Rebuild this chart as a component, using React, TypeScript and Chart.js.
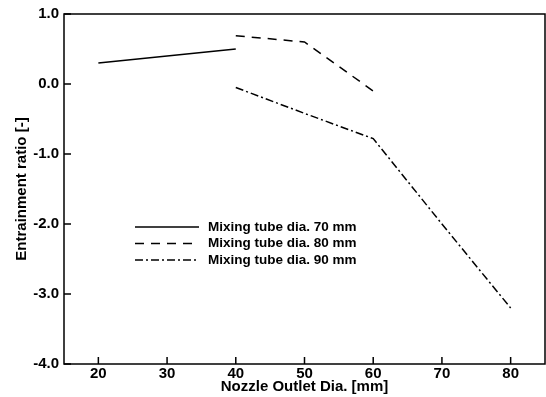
import React, { useEffect, useRef } from "react";
import { Chart, registerables } from "chart.js";

Chart.register(...registerables);

const seriesLabels = ["Mixing tube dia. 70 mm", "Mixing tube dia. 80 mm", "Mixing tube dia. 90 mm"];
const nozzle70 = [20, 40];
const ratio70 = [0.3, 0.5];
const nozzle80 = [40, 50, 60];
const ratio80 = [0.69, 0.6, -0.1];
const nozzle90 = [40, 50, 60, 70, 80];
const ratio90 = [-0.05, -0.42, -0.78, -2.0, -3.2];
const xTickValues = [20, 30, 40, 50, 60, 70, 80];
const yTickValues = [-4, -3, -2, -1, 0, 1];

const dashes = [[], [9, 7], [8, 3, 2, 3]];

const toPts = (xs: number[], ys: number[]) => xs.map((x, i) => ({ x, y: ys[i] }));

const framePlugin = {
  id: "frameAndLegend",
  afterDatasetsDraw(chart: any) {
    const { ctx, chartArea } = chart;
    const xs = chart.scales.x;
    const ys = chart.scales.y;
    ctx.save();
    ctx.strokeStyle = "#000";
    ctx.lineWidth = 1.5;
    ctx.setLineDash([]);
    ctx.strokeRect(chartArea.left, chartArea.top, chartArea.right - chartArea.left, chartArea.bottom - chartArea.top);
    ctx.beginPath();
    xTickValues.forEach((v) => {
      const px = xs.getPixelForValue(v);
      ctx.moveTo(px, chartArea.bottom);
      ctx.lineTo(px, chartArea.bottom - 7);
    });
    yTickValues.forEach((v) => {
      const py = ys.getPixelForValue(v);
      ctx.moveTo(chartArea.left, py);
      ctx.lineTo(chartArea.left + 7, py);
    });
    ctx.stroke();

    // legend inside plot
    const lx = chartArea.left + 71;
    const ly = chartArea.top + 213;
    ctx.font = "bold 13.5px 'Liberation Sans', Arial, sans-serif";
    ctx.textBaseline = "middle";
    ctx.fillStyle = "#000";
    chart.data.datasets.forEach((ds: any, i: number) => {
      const y = ly + i * 16.5;
      ctx.beginPath();
      ctx.setLineDash(ds.borderDash || []);
      ctx.lineWidth = 1.4;
      ctx.moveTo(lx, y);
      ctx.lineTo(lx + 64, y);
      ctx.stroke();
      ctx.fillText(ds.label, lx + 73, y);
    });
    ctx.restore();
  },
};

export default function App() {
  const ref = useRef<HTMLCanvasElement>(null);
  useEffect(() => {
    if (!ref.current) return;
    const mk = (i: number, xs: number[], ys: number[]) => ({
      label: seriesLabels[i],
      data: toPts(xs, ys),
      borderColor: "#000",
      borderWidth: 1.5,
      borderDash: dashes[i],
      pointRadius: 0,
      fill: false,
      tension: 0,
    });
    const font = { family: "'Liberation Sans', Arial, sans-serif", weight: "bold" as const, size: 15 };
    const chart = new Chart(ref.current, {
      type: "line",
      data: {
        datasets: [mk(0, nozzle70, ratio70), mk(1, nozzle80, ratio80), mk(2, nozzle90, ratio90)],
      },
      options: {
        animation: false,
        responsive: false,
        maintainAspectRatio: false,
        layout: { padding: { top: 14, right: 1, left: 0, bottom: 0 } },
        plugins: { legend: { display: false }, tooltip: { enabled: false } },
        scales: {
          x: {
            type: "linear",
            min: 15,
            max: 85,
            grid: { display: false, drawTicks: false },
            border: { display: false },
            afterBuildTicks: (s: any) => {
              s.ticks = xTickValues.map((v) => ({ value: v }));
            },
            afterFit: (s: any) => {
              s.height = 33;
            },
            ticks: { color: "#000", font, padding: 1, maxRotation: 0, callback: (v: any) => String(v) },
            title: {
              display: true,
              text: "Nozzle Outlet Dia. [mm]",
              color: "#000",
              font: { ...font, size: 15 },
              padding: { top: 1, bottom: 1 },
            },
          },
          y: {
            type: "linear",
            min: -4,
            max: 1,
            grid: { display: false, drawTicks: false },
            border: { display: false },
            afterBuildTicks: (s: any) => {
              s.ticks = yTickValues.map((v) => ({ value: v }));
            },
            afterFit: (s: any) => {
              s.width = 64;
            },
            ticks: { color: "#000", font, padding: 5, callback: (v: any) => Number(v).toFixed(1) },
            title: {
              display: true,
              text: "Entrainment ratio [-]",
              color: "#000",
              font: { ...font, size: 15 },
              padding: { top: 13, bottom: 13 },
            },
          },
        },
      },
      plugins: [framePlugin],
    });
    return () => chart.destroy();
  }, []);
  return (
    <div style={{ position: "fixed", left: 0, top: 0, width: 546, height: 397, background: "#fff" }}>
      <canvas ref={ref} width={546} height={397} style={{ width: 546, height: 397 }} />
    </div>
  );
}
